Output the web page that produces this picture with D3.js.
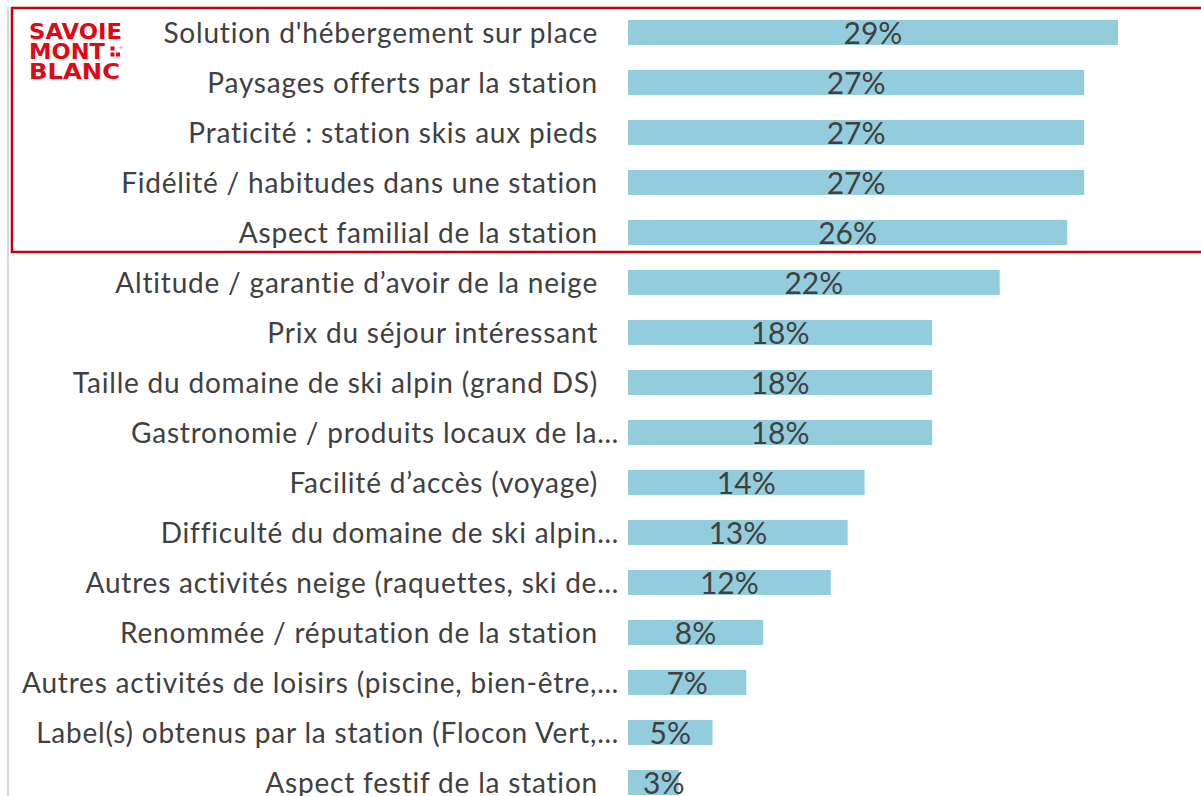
<!DOCTYPE html>
<html><head><meta charset="utf-8">
<script src="https://cdn.jsdelivr.net/npm/d3@7"></script>
<style>
html,body{margin:0;padding:0;background:#fff;}
svg{display:block;}
</style></head>
<body>
<svg id="chart" width="1201" height="796"></svg>
<script>
const categories = [
  "Solution d'hébergement sur place",
  "Paysages offerts par la station",
  "Praticité : station skis aux pieds",
  "Fidélité / habitudes dans une station",
  "Aspect familial de la station",
  "Altitude / garantie d’avoir de la neige",
  "Prix du séjour intéressant",
  "Taille du domaine de ski alpin (grand DS)",
  "Gastronomie / produits locaux de la…",
  "Facilité d’accès (voyage)",
  "Difficulté du domaine de ski alpin…",
  "Autres activités neige (raquettes, ski de…",
  "Renommée / réputation de la station",
  "Autres activités de loisirs (piscine, bien-être,…",
  "Label(s) obtenus par la station (Flocon Vert,…",
  "Aspect festif de la station"
];
const values = [29, 27, 27, 27, 26, 22, 18, 18, 18, 14, 13, 12, 8, 7, 5, 3];
const valueLabels = ["29%","27%","27%","27%","26%","22%","18%","18%","18%","14%","13%","12%","8%","7%","5%","3%"];
const logoLines = ["SAVOIE", "MONT", "BLANC"];

const svg = d3.select("#chart");
const x = d3.scaleLinear().domain([0, 29]).range([628, 1118]);
const y = d3.scaleBand().domain(categories).range([7.5, 807.5]).paddingInner(0.5).paddingOuter(0.25);

// left grey rule
svg.append("line").attr("x1", 8).attr("x2", 8).attr("y1", 7).attr("y2", 796)
  .attr("stroke", "#d9d9d9").attr("stroke-width", 2);

// bars
svg.append("g").selectAll("rect").data(values).join("rect")
  .attr("x", x(0))
  .attr("y", (d, i) => y(categories[i]))
  .attr("width", d => x(d) - x(0))
  .attr("height", y.bandwidth())
  .attr("fill", "#93CDDD");

// category labels
svg.append("g").selectAll("text").data(categories).join("text")
  .attr("x", d => d.endsWith("…") ? 619 : 598)
  .attr("y", d => y(d) + y.bandwidth() / 2)
  .attr("dy", "0.36em")
  .attr("text-anchor", "end")
  .attr("font-family", "Lato, 'Open Sans', sans-serif")
  .attr("font-size", 28)
  .attr("letter-spacing", 0.8)
  .attr("fill", "#404040")
  .text(d => d);

// value labels
const vl = svg.append("g").selectAll("text").data(values).join("text")
  .attr("y", (d, i) => y(categories[i]) + y.bandwidth() / 2)
  .attr("dy", "0.38em")
  .attr("text-anchor", "middle")
  .attr("font-family", "Lato, 'Open Sans', sans-serif")
  .attr("font-size", 30)
  .attr("fill", "#404040")
  .text((d, i) => valueLabels[i]);
vl.attr("x", function(d) {
  const w = this.getComputedTextLength();
  return Math.max((x(0) + x(d)) / 2, x(0) + 15 + w / 2);
});

// red highlight box
svg.append("rect").attr("x", 12).attr("y", 8).attr("width", 1200).attr("height", 244)
  .attr("fill", "none").attr("stroke", "#C8000A").attr("stroke-width", 2.5);

// logo
const logoWidths = [93, 76, 91];
const logo = svg.append("g").attr("fill", "#E30613")
  .attr("font-family", "'DejaVu Sans', 'Liberation Sans', sans-serif").attr("font-weight", "bold")
  .attr("font-size", 20.5);
logo.selectAll("text").data(logoLines).join("text")
  .attr("x", 29).attr("y", (d, i) => 38.5 + i * 20)
  .attr("textLength", (d, i) => logoWidths[i]).attr("lengthAdjust", "spacingAndGlyphs")
  .text(d => d);
const dots = [[110.5,46.5],[110.5,52.5],[116,52.5]];
logo.selectAll("rect.dot").data(dots).join("rect").attr("class","dot")
  .attr("x", d => d[0]).attr("y", d => d[1]).attr("width", 4).attr("height", 4);
svg.append("text").attr("x", 121).attr("y", 51).attr("font-size", 9)
  .attr("fill", "#8fb8dc").attr("font-family", "sans-serif").attr("text-anchor","middle").text("+");
</script>
</body></html>
